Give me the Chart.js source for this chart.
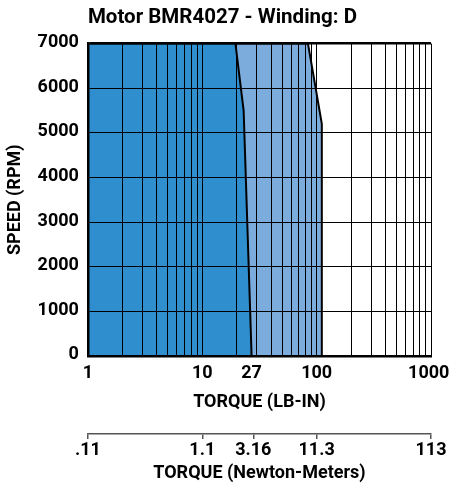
<!DOCTYPE html>
<html>
<head>
<meta charset="utf-8">
<script src="https://cdn.jsdelivr.net/npm/chart.js@4.4.1/dist/chart.umd.min.js"></script>
<style>
  html, body { margin: 0; padding: 0; background: #fff; }
  #wrap { width: 449px; height: 484px; }
</style>
</head>
<body>
<div id="wrap"><canvas id="motor-curve"></canvas></div>
<script>
const chartTitle = 'Motor BMR4027 - Winding: D';

// continuous duty region: torque (lb-in) vs speed (rpm)
const contTorque = [1, 19.5, 23, 27];
const contSpeed = [7000, 7000, 5500, 0];

// intermittent duty region
const peakTorque = [1, 84, 111, 111];
const peakSpeed = [7000, 7000, 5200, 0];

const lbInTicks = [1, 10, 27, 100, 1000];
const nmTicks = [0.113, 1.13, 3.16, 11.3, 113];
const nmLabels = ['.11', '1.1', '3.16', '11.3', '113'];
const speedTicks = [0, 1000, 2000, 3000, 4000, 5000, 6000, 7000];

// log grid: 1..9 per decade
const gridTorque = [];
for (let d = 1; d <= 100; d *= 10) {
    for (let m = 1; m < 10; m++) gridTorque.push(m * d);
}
gridTorque.push(1000);
const xTickValues = Array.from(new Set(gridTorque.concat(lbInTicks))).sort((a, b) => a - b);

const toPoints = (xs, ys) => xs.map((x, i) => ({ x: x, y: ys[i] }));

Chart.defaults.font.family = "Roboto, 'DejaVu Sans Condensed', sans-serif";
Chart.defaults.font.weight = 'bold';
Chart.defaults.color = '#000';

const ctx = document.getElementById('motor-curve').getContext('2d');

const motorChart = new Chart(ctx, {
    type: 'line',
    data: {
        datasets: [
            {
                label: 'Intermittent',
                data: toPoints(peakTorque, peakSpeed),
                borderColor: '#000',
                borderWidth: 2,
                backgroundColor: 'rgb(123, 172, 220)',
                fill: 'origin',
                pointRadius: 0,
                tension: 0,
                order: 2
            },
            {
                label: 'Continuous',
                data: toPoints(contTorque, contSpeed),
                borderColor: '#000',
                borderWidth: 2,
                backgroundColor: 'rgb(46, 142, 206)',
                fill: 'origin',
                pointRadius: 0,
                tension: 0,
                order: 1
            }
        ]
    },
    options: {
        responsive: true,
        maintainAspectRatio: false,
        animation: false,
        layout: {
            padding: { left: 4, right: 0, top: 0, bottom: 0 }
        },
        plugins: {
            legend: { display: false },
            tooltip: { enabled: false },
            title: {
                display: true,
                text: chartTitle,
                align: 'start',
                fullSize: false,
                font: { size: 20.5, weight: 'bold' },
                padding: { top: 6, bottom: 13 }
            }
        },
        scales: {
            x: {
                type: 'logarithmic',
                position: 'bottom',
                min: 1,
                max: 1000,
                afterBuildTicks: (scale) => {
                    scale.ticks = xTickValues.map(v => ({ value: v }));
                },
                afterFit: (scale) => { scale.paddingRight = 18; },
                ticks: {
                    autoSkip: false,
                    maxRotation: 0,
                    padding: 7,
                    font: { size: 18, weight: 'bold' },
                    // last label nudged left a little so it stays inside the canvas
                    callback: (value) => lbInTicks.includes(value) ? (value === 1000 ? '1000 ' : String(value)) : ''
                },
                grid: {
                    z: 1,
                    drawTicks: false,
                    color: (c) => (c.tick && c.tick.value === 27) ? 'rgba(0,0,0,0)' : '#000',
                    lineWidth: 1
                },
                border: { display: true, color: '#000', width: 2.5, z: 1 },
                title: {
                    display: true,
                    text: 'TORQUE (LB-IN)',
                    font: { size: 18, weight: 'bold' },
                    padding: { top: 0, bottom: 21 }
                }
            },
            x2: {
                type: 'logarithmic',
                position: 'bottom',
                min: 0.113,
                max: 113,
                afterBuildTicks: (scale) => {
                    scale.ticks = nmTicks.map(v => ({ value: v }));
                },
                afterFit: (scale) => { scale.paddingRight = 18; },
                ticks: {
                    autoSkip: false,
                    maxRotation: 0,
                    padding: 4,
                    font: { size: 18, weight: 'bold', lineHeight: 0.85 },
                    callback: (value) => {
                        const i = nmTicks.indexOf(value);
                        return i >= 0 ? nmLabels[i] : '';
                    }
                },
                grid: {
                    drawOnChartArea: false,
                    drawTicks: true,
                    tickLength: 5,
                    color: '#555',
                    lineWidth: 1.5
                },
                border: { display: true, color: '#555', width: 1.5 },
                title: {
                    display: true,
                    text: 'TORQUE (Newton-Meters)',
                    font: { size: 18, weight: 'bold' },
                    padding: { top: 0, bottom: 0 }
                }
            },
            y: {
                type: 'linear',
                min: 0,
                max: 7000,
                afterBuildTicks: (scale) => {
                    scale.ticks = speedTicks.map(v => ({ value: v }));
                },
                ticks: {
                    padding: 9,
                    labelOffset: -1,
                    font: { size: 18, weight: 'bold' },
                    callback: (value) => String(value)
                },
                grid: {
                    z: 1,
                    drawTicks: false,
                    color: '#000',
                    lineWidth: (c) => (c.tick && c.tick.value === 7000) ? 2.5 : 1
                },
                border: { display: true, color: '#000', width: 2.5, z: 1 },
                title: {
                    display: true,
                    text: 'SPEED (RPM)',
                    font: { size: 18, weight: 'bold' },
                    padding: { top: 1, bottom: 2 }
                }
            }
        }
    }
});
</script>
</body>
</html>
